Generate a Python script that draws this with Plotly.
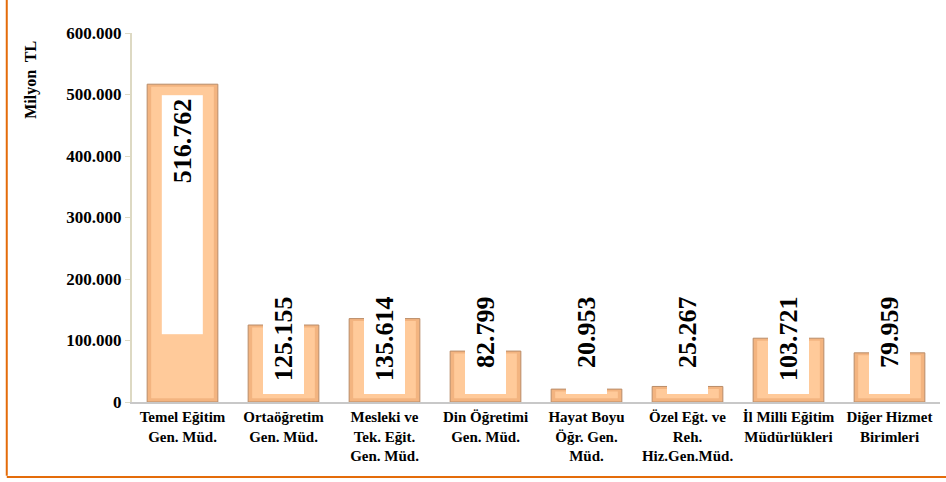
import plotly.graph_objects as go

categories = [
    "Temel Eğitim<br>Gen. Müd.",
    "Ortaöğretim<br>Gen. Müd.",
    "Mesleki ve<br>Tek. Eğit.<br>Gen. Müd.",
    "Din Öğretimi<br>Gen. Müd.",
    "Hayat Boyu<br>Öğr. Gen.<br>Müd.",
    "Özel Eğt. ve<br>Reh.<br>Hiz.Gen.Müd.",
    "İl Milli Eğitim<br>Müdürlükleri",
    "Diğer Hizmet<br>Birimleri",
]
values = [516762, 125155, 135614, 82799, 20953, 25267, 103721, 79959]
tick_vals = [0, 100000, 200000, 300000, 400000, 500000, 600000]
tick_text = ["0", "100.000", "200.000", "300.000", "400.000", "500.000", "600.000"]

FONT = "Liberation Serif"

def fmt(v):
    return f"{v:,}".replace(",", ".")

def bold(s):
    return "<b>" + s.replace("<br>", "</b><br><b>") + "</b>"

fig = go.Figure()
# outer bar (bevel edge)
fig.add_trace(go.Bar(
    x=categories, y=values, width=0.7,
    marker=dict(color="#F3B480", line=dict(color="#B98C68", width=1)),
    hoverinfo="skip", showlegend=False,
))
# inner lighter face (bevel effect)
fig.add_trace(go.Bar(
    x=categories, y=[v - 10000 for v in values], base=6000, width=0.62,
    marker=dict(color="#FFCA9A", line=dict(width=0)),
    hoverinfo="skip", showlegend=False,
))

annotations = []
for c, v in zip(categories, values):
    if v > 300000:
        annotations.append(dict(
            x=c, y=v, xref="x", yref="y", yanchor="top", xanchor="center",
            yshift=-11, text=bold(fmt(v)), textangle=-90, showarrow=False,
            bgcolor="white", width=232, height=34, align="right", borderpad=3,
            font=dict(family=FONT, size=26, color="black"),
        ))
    else:
        annotations.append(dict(
            x=c, y=0, xref="x", yref="y", yanchor="bottom", xanchor="center",
            yshift=7, text=bold(fmt(v)), textangle=-90, showarrow=False,
            bgcolor="white", width=94, height=34, align="right", borderpad=3,
            font=dict(family=FONT, size=26, color="black"),
        ))

annotations.append(dict(
    x=-0.125, y=0.873, xref="paper", yref="paper", text="<b>Milyon  TL</b>",
    textangle=-90, showarrow=False, xanchor="center", yanchor="middle",
    font=dict(family=FONT, size=16, color="black"),
))

fig.update_layout(
    width=946, height=482,
    margin=dict(l=132, r=6, t=33, b=80),
    paper_bgcolor="white", plot_bgcolor="white",
    barmode="overlay", bargap=0.3,
    annotations=annotations,
    shapes=[
        dict(type="line", xref="paper", yref="paper", x0=-0.155, x1=-0.155,
             y0=-0.2, y1=1.2, line=dict(color="#E46C0A", width=2)),
        dict(type="line", xref="paper", yref="paper", x0=-0.155, x1=1.01,
             y0=-0.2033, y1=-0.2033, line=dict(color="#E46C0A", width=2)),
    ],
    xaxis=dict(
        showline=True, linecolor="#C8C8C8", linewidth=2, ticks="",
        showgrid=False, tickangle=0,
        tickvals=categories, ticktext=[bold(c) for c in categories],
        tickfont=dict(family=FONT, size=15, color="black"),
    ),
    yaxis=dict(
        range=[0, 600000], tickvals=tick_vals, ticktext=[bold(t) for t in tick_text],
        showline=True, linecolor="#DDD9C3", linewidth=2, ticks="outside",
        ticklen=5, tickcolor="#DDD9C3", showgrid=False, zeroline=False,
        tickfont=dict(family=FONT, size=17, color="black"),
    ),
)

fig.write_html("out.html", config={"displayModeBar": False},
               post_script="document.body.style.margin='0';")
